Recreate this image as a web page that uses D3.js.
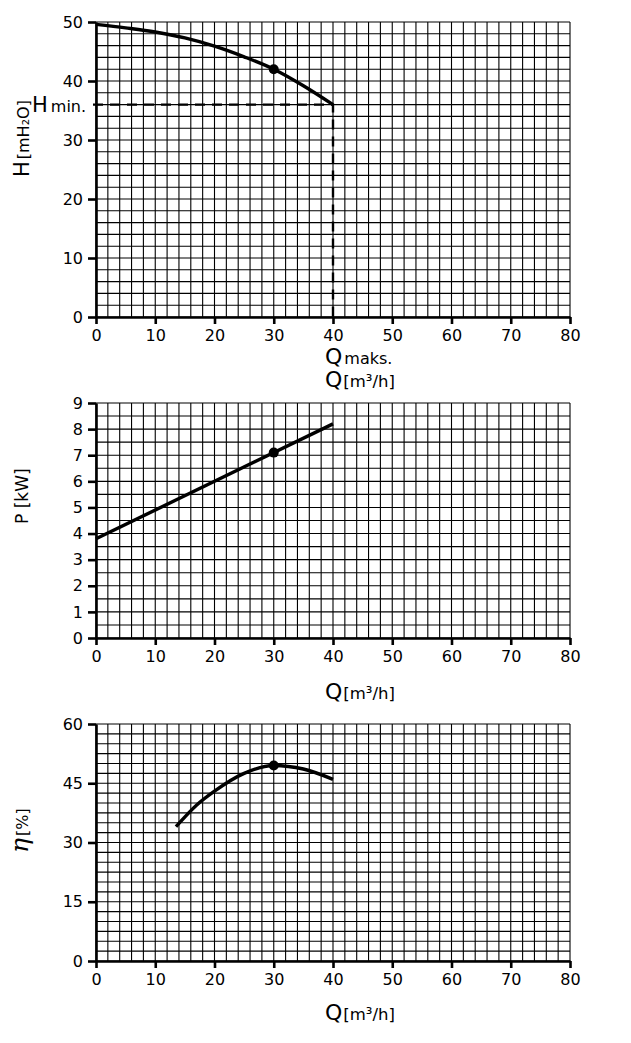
<!DOCTYPE html>
<html>
<head>
<meta charset="utf-8">
<script src="https://cdn.jsdelivr.net/npm/d3@7"></script>
<style>
  body { margin: 0; background: #fff; }
  svg { display: block; font-family: "DejaVu Sans", Verdana, sans-serif; }
</style>
</head>
<body>
<div id="chart"></div>
<script>
// Flow values (m3/h) and curves
const headQ = [0, 5, 10, 15, 20, 25, 30, 35, 40];
const headH = [49.6, 49.0, 48.3, 47.3, 45.9, 44.1, 42.0, 39.2, 36.0];
const powerQ = [0, 40];
const powerP = [3.8, 8.2];
const effQ = [13.5, 17, 20, 25, 30, 35, 40];
const effE = [34, 39.5, 43, 47.5, 49.5, 48.6, 46];

const dutyQ = 30;
const dutyH = 42;
const dutyP = 7.1;
const dutyE = 49.5;
const hMin = 36;
const qMax = 40;

const xTicks = [0, 10, 20, 30, 40, 50, 60, 70, 80];
const headTicks = [0, 10, 20, 30, 40, 50];
const powerTicks = [0, 1, 2, 3, 4, 5, 6, 7, 8, 9];
const effTicks = [0, 15, 30, 45, 60];

const width = 631;
const height = 1043;

const svg = d3
  .select("#chart")
  .append("svg")
  .attr("width", width)
  .attr("height", height);

// Shared x scale for all three panels
const x = d3.scaleLinear().domain([0, 80]).range([96, 570]);

function drawPanel(opts) {
  const y = d3.scaleLinear().domain(opts.domain).range(opts.range);
  const g = svg.append("g");

  // grid
  const gx = d3.range(0, 80.001, 2);
  const gy = d3.range(opts.domain[0], opts.domain[1] + 0.001, opts.gridStep);
  g.append("g")
    .selectAll("line")
    .data(gx)
    .join("line")
    .attr("x1", (d) => x(d))
    .attr("x2", (d) => x(d))
    .attr("y1", y(opts.domain[0]))
    .attr("y2", y(opts.domain[1]))
    .attr("stroke", "#000")
    .attr("stroke-width", 1.1);
  g.append("g")
    .selectAll("line")
    .data(gy)
    .join("line")
    .attr("x1", x(0))
    .attr("x2", x(80))
    .attr("y1", (d) => y(d))
    .attr("y2", (d) => y(d))
    .attr("stroke", "#000")
    .attr("stroke-width", 1.1);

  // axes
  const xAxis = g
    .append("g")
    .attr("transform", `translate(0,${y(opts.domain[0])})`)
    .call(d3.axisBottom(x).tickValues(xTicks).tickSize(7).tickSizeOuter(0).tickPadding(3));
  const yAxis = g
    .append("g")
    .attr("transform", `translate(${x(0)},0)`)
    .call(d3.axisLeft(y).tickValues(opts.ticks).tickSize(8).tickSizeOuter(0).tickPadding(5));
  [xAxis, yAxis].forEach((a) => {
    a.select(".domain").attr("stroke", "#000").attr("stroke-width", 2.6);
    a.selectAll(".tick line").attr("stroke", "#000").attr("stroke-width", 2.6);
    a.selectAll(".tick text")
      .attr("fill", "#000")
      .attr("font-size", 16)
      .attr("font-family", "DejaVu Sans");
  });
  xAxis.selectAll(".tick text").attr("dy", "0.9em");

  // curve
  const line = d3
    .line()
    .x((d) => x(d[0]))
    .y((d) => y(d[1]))
    .curve(d3.curveMonotoneX);
  g.append("path")
    .datum(d3.zip(opts.q, opts.v))
    .attr("d", line)
    .attr("fill", "none")
    .attr("stroke", "#000")
    .attr("stroke-width", 3.4)
    .attr("stroke-linecap", "butt");

  g.append("circle")
    .attr("cx", x(dutyQ))
    .attr("cy", y(opts.duty))
    .attr("r", 5)
    .attr("fill", "#000");

  // x title
  const qt = g
    .append("text")
    .attr("x", 325)
    .attr("y", y(opts.domain[0]) + opts.qTitleDy)
    .attr("fill", "#000");
  qt.append("tspan").attr("font-size", 22).text("Q");
  qt.append("tspan").attr("font-size", 16.5).attr("dx", 1).text("[m³/h]");

  return { g, y };
}

// Head panel
const headPanel = drawPanel({
  domain: [0, 50],
  range: [317, 22],
  gridStep: 2,
  ticks: headTicks,
  q: headQ,
  v: headH,
  duty: dutyH,
  qTitleDy: 70,
});

// H min / Q max dashed guides
headPanel.g
  .append("path")
  .attr(
    "d",
    `M${x(0) - 3},${headPanel.y(hMin)}H${x(qMax)}V${headPanel.y(0)}`,
  )
  .attr("fill", "none")
  .attr("stroke", "#000")
  .attr("stroke-width", 2.4)
  .attr("stroke-dasharray", "10,7");

const hm = headPanel.g
  .append("text")
  .attr("x", 32)
  .attr("y", headPanel.y(hMin) + 7.5)
  .attr("fill", "#000");
hm.append("tspan").attr("font-size", 21).text("H");
hm.append("tspan").attr("font-size", 16).attr("dx", 3).text("min.");

const qm = headPanel.g
  .append("text")
  .attr("x", 325)
  .attr("y", headPanel.y(0) + 47)
  .attr("fill", "#000");
qm.append("tspan").attr("font-size", 22).text("Q");
qm.append("tspan").attr("font-size", 16).attr("dx", 2).text("maks.");

const hl = headPanel.g
  .append("text")
  .attr("transform", `translate(29,177) rotate(-90)`)
  .attr("fill", "#000");
hl.append("tspan").attr("font-size", 21).text("H");
hl.append("tspan").attr("font-size", 16).attr("dx", 2).text("[mH₂O]");

// Power panel
const powerPanel = drawPanel({
  domain: [0, 9],
  range: [638, 403],
  gridStep: 0.5,
  ticks: powerTicks,
  q: powerQ,
  v: powerP,
  duty: dutyP,
  qTitleDy: 61,
});
powerPanel.g
  .append("text")
  .attr("transform", `translate(28,524) rotate(-90)`)
  .attr("fill", "#000")
  .attr("font-size", 17)
  .text("P [kW]");

// Efficiency panel
const effPanel = drawPanel({
  domain: [0, 60],
  range: [961, 724],
  gridStep: 2.5,
  ticks: effTicks,
  q: effQ,
  v: effE,
  duty: dutyE,
  qTitleDy: 59,
});
const el = effPanel.g
  .append("text")
  .attr("transform", `translate(28,853) rotate(-90)`)
  .attr("fill", "#000");
el.append("tspan").attr("font-size", 25).attr("font-style", "italic").attr("font-family", "DejaVu Serif").text("η");
el.append("tspan").attr("font-size", 16).attr("dx", 2).text("[%]");
</script>
</body>
</html>
